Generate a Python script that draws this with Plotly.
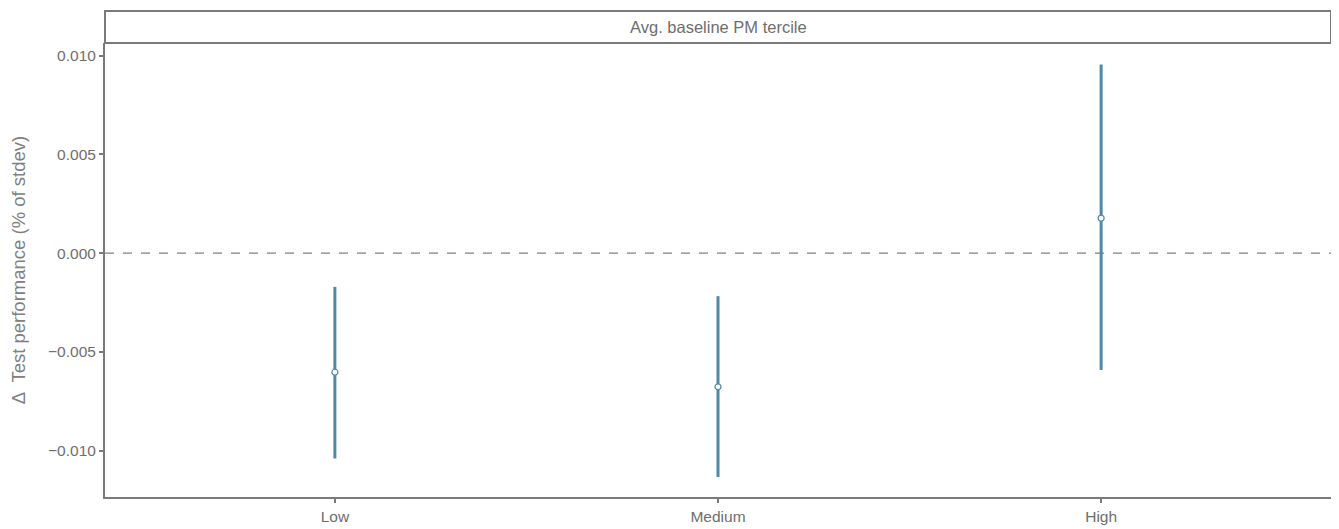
import plotly.graph_objects as go

categories = ["Low", "Medium", "High"]
estimate = [-0.00603, -0.00677, 0.00177]
ci_low = [-0.01040, -0.01134, -0.00592]
ci_high = [-0.00171, -0.00218, 0.00955]

err_plus = [h - e for h, e in zip(ci_high, estimate)]
err_minus = [e - l for e, l in zip(estimate, ci_low)]

blue = "#4f88a8"
axis_grey = "#7a7a7a"
text_grey = "#6e6e6e"
title_grey = "#808080"

fig = go.Figure()
fig.add_trace(go.Scatter(
    x=categories, y=estimate, mode="markers",
    marker=dict(size=6, color="white", line=dict(color=blue, width=1.2)),
    error_y=dict(type="data", symmetric=False, array=err_plus, arrayminus=err_minus,
                 color=blue, thickness=3, width=0),
    showlegend=False,
))

# page body has an 8px margin: shift the figure so the panel lands where the reference has it
panel_h = 454
fig.update_layout(
    width=1331, height=521,
    margin=dict(l=97, r=8, t=35, b=32),
    paper_bgcolor="white", plot_bgcolor="white",
    font=dict(family="Liberation Sans, Arial, sans-serif", color=text_grey, size=15),
    xaxis=dict(
        type="category", range=[-0.6, 2.6], automargin=False,
        showline=True, linecolor=axis_grey, linewidth=2,
        ticks="outside", ticklen=4, tickcolor=axis_grey, tickwidth=1.5,
        showgrid=False, zeroline=False,
        tickfont=dict(size=15.5, color=text_grey),
    ),
    yaxis=dict(
        range=[-0.01235, 0.01064], automargin=False,
        tickvals=[-0.010, -0.005, 0.000, 0.005, 0.010],
        ticktext=["\u22120.010", "\u22120.005", "0.000", "0.005", "0.010"],
        showline=True, linecolor=axis_grey, linewidth=2,
        ticks="outside", ticklen=4, tickcolor=axis_grey, tickwidth=1.5,
        showgrid=False, zeroline=False,
        tickfont=dict(size=15.5, color=text_grey),
        title=dict(text="\u0394  Test performance (% of stdev)",
                   font=dict(size=18.5, color=title_grey), standoff=20),
    ),
    shapes=[
        dict(type="line", xref="paper", yref="y", x0=0, x1=1, y0=0, y1=0,
             line=dict(color="#808080", width=1.3, dash="dash"), layer="below"),
        dict(type="rect", xref="paper", yref="paper", x0=0, x1=1,
             y0=1.0, y1=1 + 32 / panel_h,
             line=dict(color=axis_grey, width=2), fillcolor="white"),
    ],
    annotations=[
        dict(text="Avg. baseline PM tercile", xref="paper", yref="paper",
             x=0.5, y=1 + 16 / panel_h, showarrow=False,
             font=dict(size=16.5, color=text_grey), xanchor="center", yanchor="middle"),
    ],
)

fig.write_html("out.html")
